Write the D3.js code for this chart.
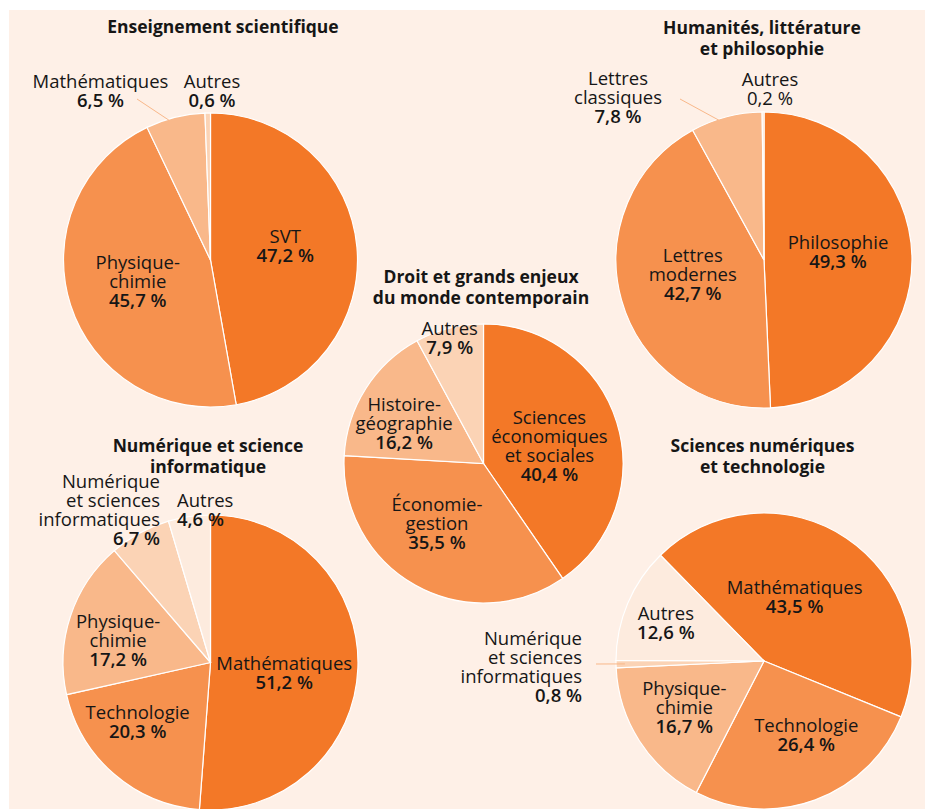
<!DOCTYPE html>
<html lang="fr">
<head>
  <meta charset="UTF-8">
  <title>Répartition des enseignants par discipline</title>
  <script src="https://d3js.org/d3.v7.min.js"></script>
  <style>
    body { margin: 0; background: #fff; }
    svg { display: block; font-family: "Open Sans", sans-serif; }
    .title { font-weight: 700; font-size: 17.5px; fill: #161616; text-anchor: middle; }
    .lbl { font-size: 18.5px; fill: #161616; }
    .val { font-weight: 600; }
    .leader { stroke: #f9b88a; stroke-width: 1; fill: none; }
  </style>
</head>
<body>
  <script>
    // --- data ---
    const esCats = ["SVT", "Physique-chimie", "Mathématiques", "Autres"];
    const esVals = [47.2, 45.7, 6.5, 0.6];

    const hlpCats = ["Philosophie", "Lettres modernes", "Lettres classiques", "Autres"];
    const hlpVals = [49.3, 42.7, 7.8, 0.2];

    const dgemcCats = ["Sciences économiques et sociales", "Économie-gestion", "Histoire-géographie", "Autres"];
    const dgemcVals = [40.4, 35.5, 16.2, 7.9];

    const nsiCats = ["Mathématiques", "Technologie", "Physique-chimie", "Numérique et sciences informatiques", "Autres"];
    const nsiVals = [51.2, 20.3, 17.2, 6.7, 4.6];

    const sntCats = ["Mathématiques", "Technologie", "Physique-chimie", "Numérique et sciences informatiques", "Autres"];
    const sntVals = [43.5, 26.4, 16.7, 0.8, 12.6];

    // --- styles / layout ---
    const W = 925, H = 809;
    const LH = 19;
    const shades = ["#f37827", "#f6914e", "#f9b88a", "#fbd3b5", "#fdebde"];

    const breaks = {
      "Physique-chimie": ["Physique-", "chimie"],
      "Lettres modernes": ["Lettres", "modernes"],
      "Lettres classiques": ["Lettres", "classiques"],
      "Sciences économiques et sociales": ["Sciences", "économiques", "et sociales"],
      "Économie-gestion": ["Économie-", "gestion"],
      "Histoire-géographie": ["Histoire-", "géographie"],
      "Numérique et sciences informatiques": ["Numérique", "et sciences", "informatiques"]
    };

    const pies = [
      { title: ["Enseignement scientifique"], tx: 223, ty: 27,
        cats: esCats, vals: esVals, cx: 210.5, cy: 260, r: 147, start: 0,
        labels: [{k: .51, ny: -7}, {k: .52, ny: -2},
                 {out: [-110, -169], lead: [-73.5, -161]}, {out: [1.5, -169]}] },
      { title: ["Humanités, littérature", "et philosophie"], tx: 762, ty: 28,
        cats: hlpCats, vals: hlpVals, cx: 764, cy: 260, r: 148, start: 0,
        labels: [{k: .5, ny: -6}, {k: .5, ny: -5},
                 {out: [-146, -162.5], lead: [-84, -161]}, {out: [6, -170.5], plain: true}] },
      { title: ["Droit et grands enjeux", "du monde contemporain"], tx: 481, ty: 277,
        cats: dgemcCats, vals: dgemcVals, cx: 483.5, cy: 463.5, r: 139.5, start: 0,
        labels: [{k: .48, nx: 2, ny: 2}, {k: .52, nx: -11, ny: -3},
                 {k: .64, nx: -4, ny: 8}, {k: .9, nx: -3, ny: -4}] },
      { title: ["Numérique et science", "informatique"], tx: 208, ty: 446,
        cats: nsiCats, vals: nsiVals, cx: 210.5, cy: 662.5, r: 147.5, start: 0,
        labels: [{k: .5, ny: 8}, {k: .62, nx: -13, ny: -10}, {k: .66, ny: 9},
                 {out: [-50.5, -152.5], anchor: "end"}, {out: [-33.5, -152], anchor: "start"}] },
      { title: ["Sciences numériques", "et technologie"], tx: 762.5, ty: 446,
        cats: sntCats, vals: sntVals, cx: 764, cy: 661, r: 148, start: -44.4,
        labels: [{k: .48, nx: -9, ny: -5}, {k: .57, nx: 13, ny: -5}, {k: .64, ny: -5},
                 {out: [-182, 6.5], anchor: "end", lead: [-168, 3]}, {k: .72, ny: 4}] }
    ];

    const fmt = v => d3.format(".1f")(v).replace(".", ",") + "\u00a0%";

    const svg = d3.select("body").append("svg")
      .attr("width", W)
      .attr("height", H);

    svg.append("rect")
      .attr("x", 9).attr("y", 10)
      .attr("width", W - 9).attr("height", H - 10)
      .attr("fill", "#fef0e7");

    function addLabel(g, lines, x, y, anchor, boldVal) {
      const t = g.append("text").attr("class", "lbl").attr("text-anchor", anchor);
      lines.forEach((s, i) => {
        t.append("tspan")
          .attr("x", x)
          .attr("y", y + (i - (lines.length - 1) / 2) * LH)
          .attr("dy", "0.35em")
          .classed("val", i === lines.length - 1 && boldVal)
          .text(s);
      });
    }

    pies.forEach(p => {
      // title
      const tt = svg.append("text").attr("class", "title");
      p.title.forEach((s, i) => {
        tt.append("tspan").attr("x", p.tx).attr("y", p.ty + i * 21).attr("dy", "0.35em").text(s);
      });

      const a0 = p.start * Math.PI / 180;
      const arcs = d3.pie()
        .sort(null)
        .startAngle(a0)
        .endAngle(a0 + 2 * Math.PI)(p.vals);

      const arc = d3.arc().innerRadius(0).outerRadius(p.r);
      const g = svg.append("g").attr("transform", `translate(${p.cx},${p.cy})`);

      g.selectAll("path")
        .data(arcs)
        .join("path")
        .attr("d", arc)
        .attr("fill", (d, i) => shades[i])
        .attr("stroke", "#fff")
        .attr("stroke-width", 1.2);

      arcs.forEach((d, i) => {
        const spec = p.labels[i];
        const mid = (d.startAngle + d.endAngle) / 2;
        const lines = (breaks[p.cats[i]] || [p.cats[i]]).concat([fmt(p.vals[i])]);
        if (spec.out) {
          if (spec.lead) {
            g.append("line").attr("class", "leader")
              .attr("x1", Math.sin(mid) * p.r * 0.94)
              .attr("y1", -Math.cos(mid) * p.r * 0.94)
              .attr("x2", spec.lead[0])
              .attr("y2", spec.lead[1]);
          }
          addLabel(g, lines, spec.out[0], spec.out[1], spec.anchor || "middle", !spec.plain);
        } else {
          const rr = p.r * spec.k;
          const x = Math.sin(mid) * rr + (spec.nx || 0);
          const y = -Math.cos(mid) * rr + (spec.ny || 0);
          addLabel(g, lines, x, y, "middle", true);
        }
      });
    });
  </script>
</body>
</html>
